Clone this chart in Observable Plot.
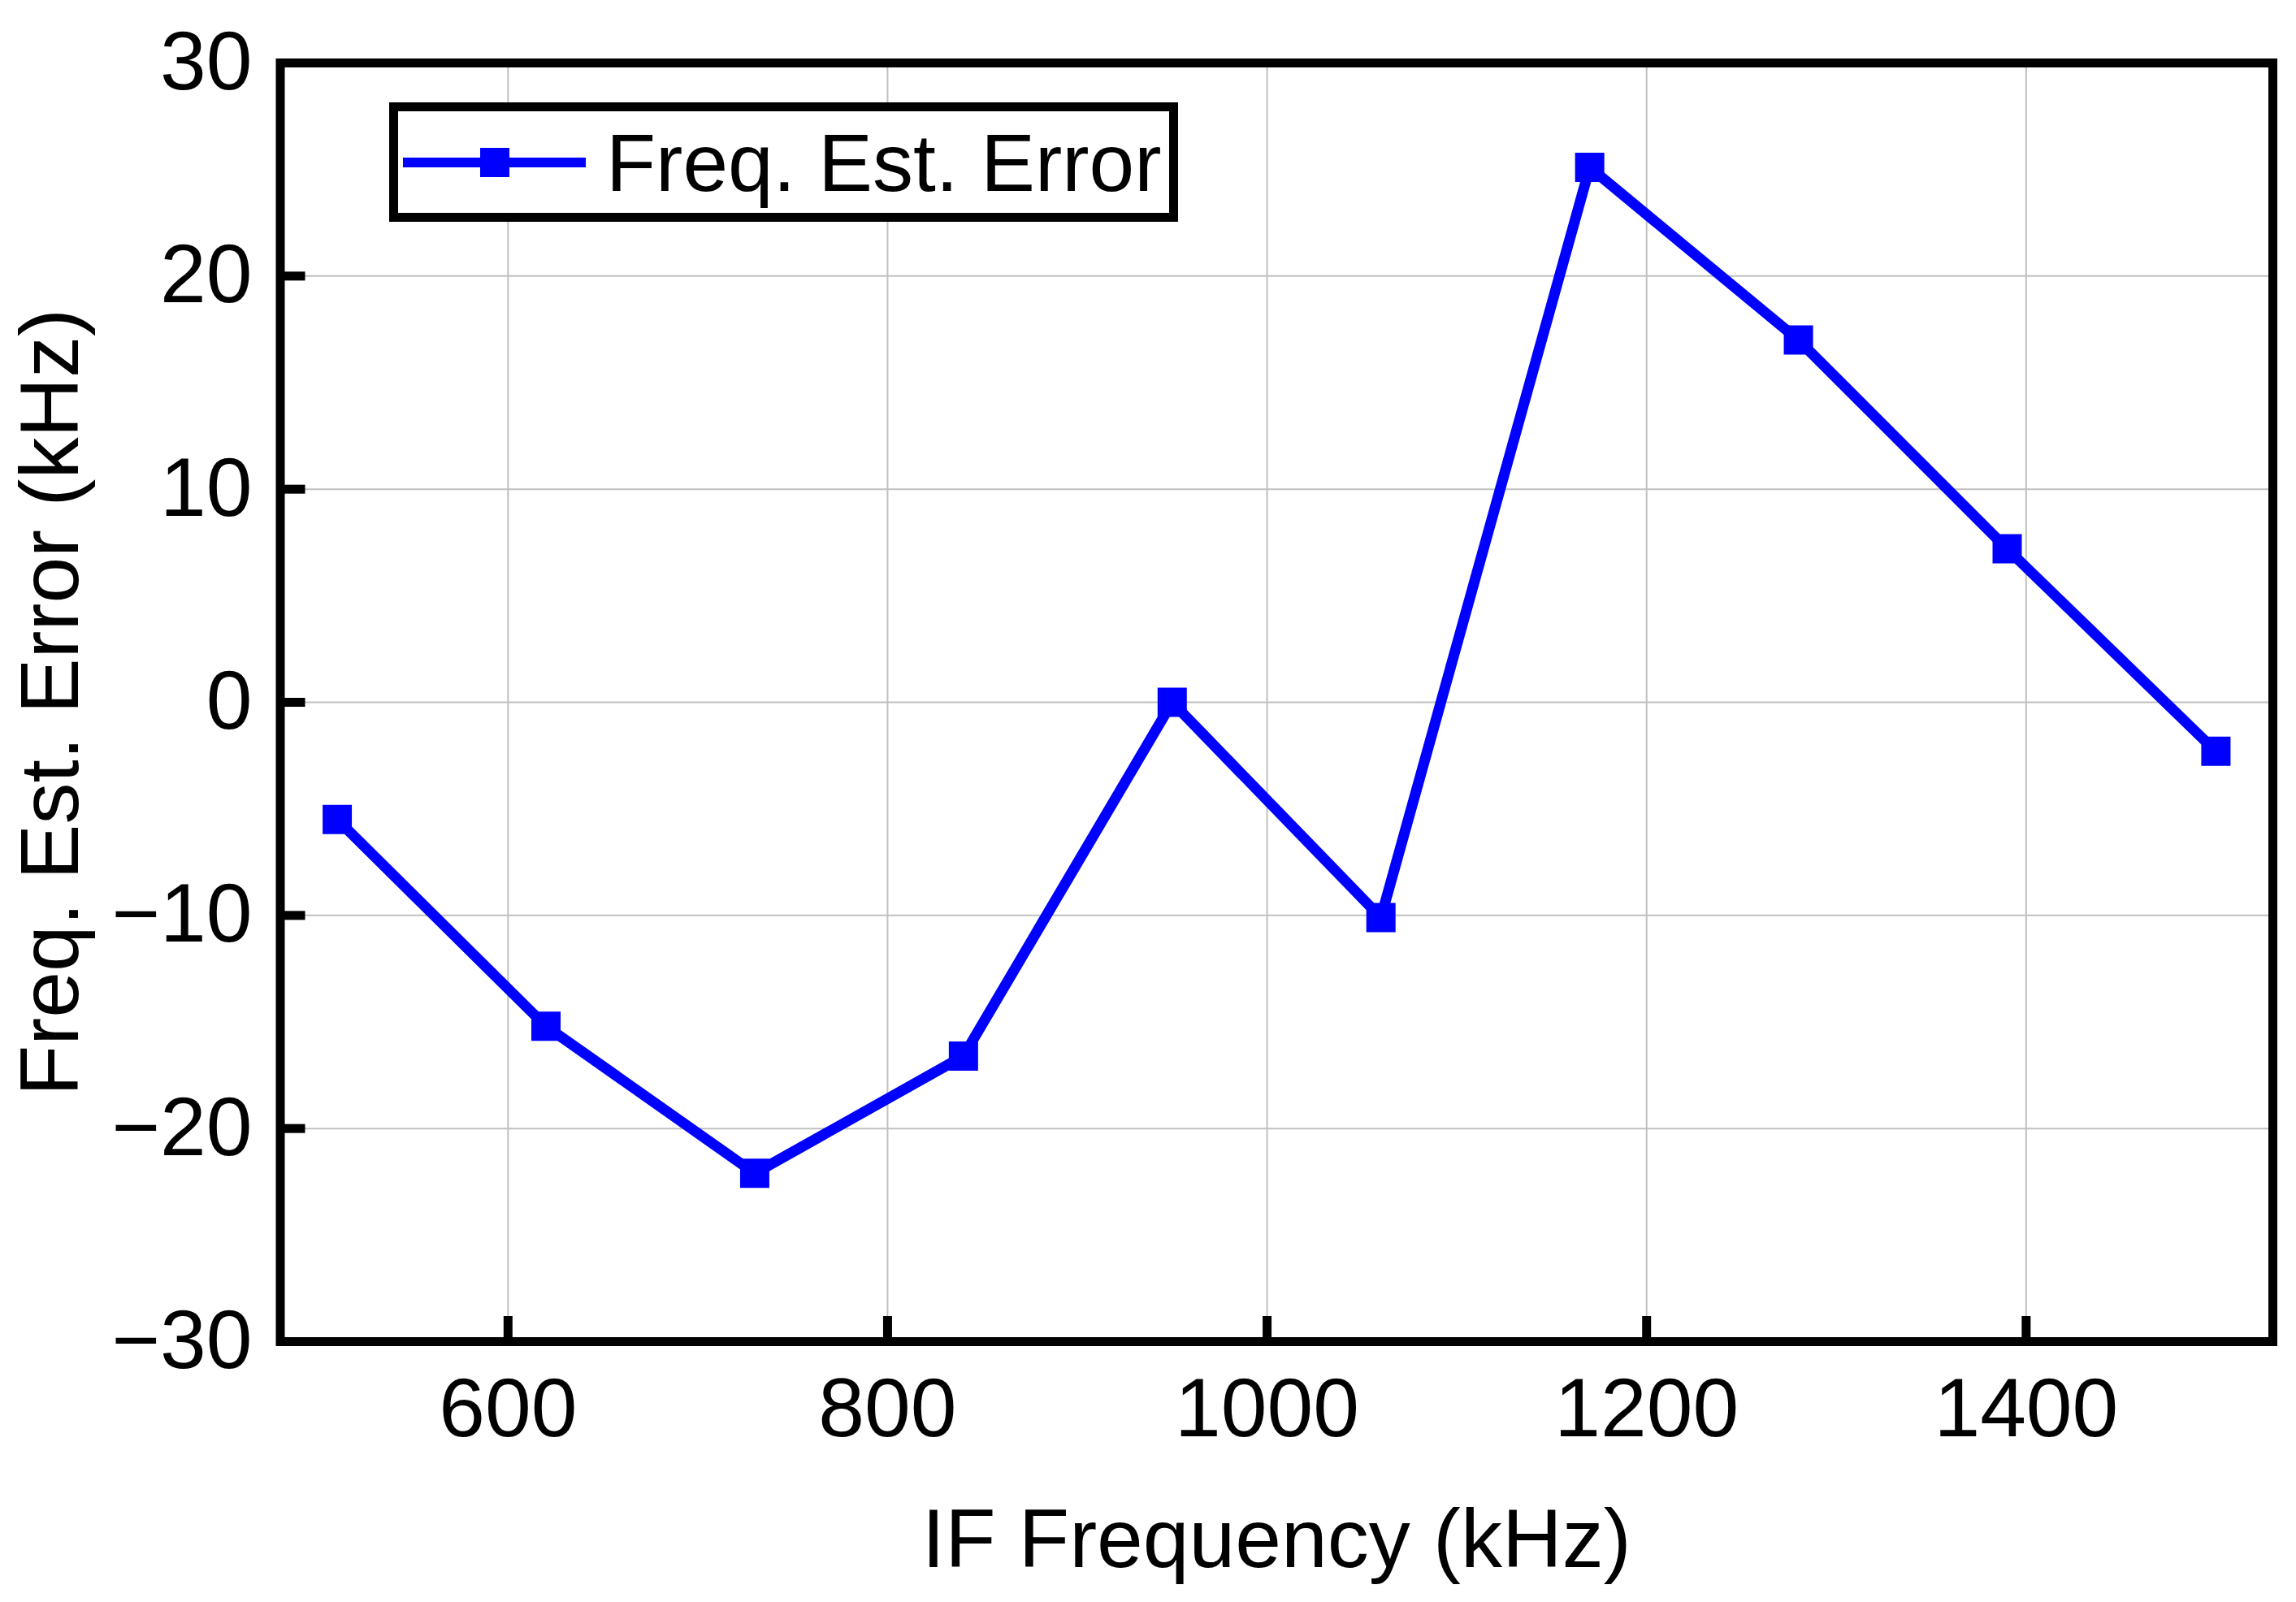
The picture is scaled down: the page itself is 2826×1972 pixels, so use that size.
<!DOCTYPE html>
<html>
<head>
<meta charset="utf-8">
<script src="https://cdn.jsdelivr.net/npm/d3@7"></script>
<script src="https://cdn.jsdelivr.net/npm/@observablehq/plot@0.6"></script>
<style>
  html, body { margin: 0; padding: 0; background: #ffffff; }
  #wrap { position: relative; width: 2826px; height: 1972px; }
  #legend { position: absolute; left: 479px; top: 126px; }
</style>
</head>
<body>
<div id="wrap"></div>
<script>
// ---- data ----
const ifFrequency = [510, 620, 730, 840, 950, 1060, 1170, 1280, 1390, 1500]; // kHz
const estError = [-5.5, -15.2, -22.1, -16.6, 0, -10.1, 25.1, 17.0, 7.2, -2.3]; // kHz
const xTicks = [600, 800, 1000, 1200, 1400];
const yTicks = [-30, -20, -10, 0, 10, 20, 30];
const xDomain = [480, 1530];
const yDomain = [-30, 30];
const xLabel = "IF Frequency (kHz)";
const yLabel = "Freq. Est. Error (kHz)";
const seriesName = "Freq. Est. Error";

const data = ifFrequency.map((f, i) => ({f, e: estError[i]}));

const FONT = "Arial, 'Liberation Sans', Helvetica, sans-serif";
const BLUE = "#0000ff";
const fmt = d => (d < 0 ? "\u2212" : "") + Math.abs(d);

const chart = Plot.plot({
  width: 2826,
  height: 1972,
  marginLeft: 344.5,
  marginRight: 29,
  marginTop: 77,
  marginBottom: 321,
  style: {fontFamily: FONT, fontSize: "102px", color: "black", background: "white"},
  x: {domain: xDomain},
  y: {domain: yDomain},
  marks: [
    Plot.gridX(xTicks, {stroke: "#c0c0c0", strokeOpacity: 1, strokeWidth: 2}),
    Plot.gridY(yTicks, {stroke: "#c0c0c0", strokeOpacity: 1, strokeWidth: 2}),
    Plot.line(data, {x: "f", y: "e", stroke: BLUE, strokeWidth: 13, strokeLinejoin: "miter"}),
    Plot.dot(data, {x: "f", y: "e", symbol: "square", r: 36 / Math.sqrt(Math.PI), fill: BLUE, stroke: "none"}),
    Plot.frame({stroke: "black", strokeWidth: 11}),
    // inward ticks
    Plot.axisX(xTicks, {tickSize: 31, dy: -31, fill: "none", stroke: "black", strokeWidth: 11, label: null}),
    Plot.axisY(yTicks, {tickSize: 31, dx: 31, fill: "none", stroke: "black", strokeWidth: 11, label: null}),
    // tick labels
    Plot.axisX(xTicks, {tickSize: 0, tickPadding: 44, fontSize: 102, label: null, tickFormat: fmt}),
    Plot.axisY(yTicks, {tickSize: 0, tickPadding: 34.5, fontSize: 102, label: null, tickFormat: fmt}),
    // axis titles
    Plot.text([xLabel], {text: d => d, frameAnchor: "bottom", lineAnchor: "top", dy: 205, fontSize: 102}),
    Plot.text([yLabel], {text: d => d, frameAnchor: "left", textAnchor: "middle", lineAnchor: "top", rotate: -90, dx: -321.5, fontSize: 102})
  ]
});

document.getElementById("wrap").appendChild(chart);

// legend (inside the plot, upper left)
const ns = "http://www.w3.org/2000/svg";
const lg = d3.select("#wrap").append("svg")
  .attr("id", "legend")
  .attr("width", 971).attr("height", 147)
  .attr("xmlns", ns);
lg.append("rect").attr("x", 5.5).attr("y", 5.5).attr("width", 960).attr("height", 136)
  .attr("fill", "white").attr("stroke", "black").attr("stroke-width", 11);
lg.append("line").attr("x1", 17).attr("x2", 242).attr("y1", 74).attr("y2", 74)
  .attr("stroke", BLUE).attr("stroke-width", 12);
lg.append("rect").attr("x", 112).attr("y", 56).attr("width", 36).attr("height", 36).attr("fill", BLUE);
lg.append("text").attr("x", 267).attr("y", 109).attr("font-family", FONT).attr("font-size", 100)
  .attr("fill", "black").text(seriesName);
</script>
</body>
</html>
